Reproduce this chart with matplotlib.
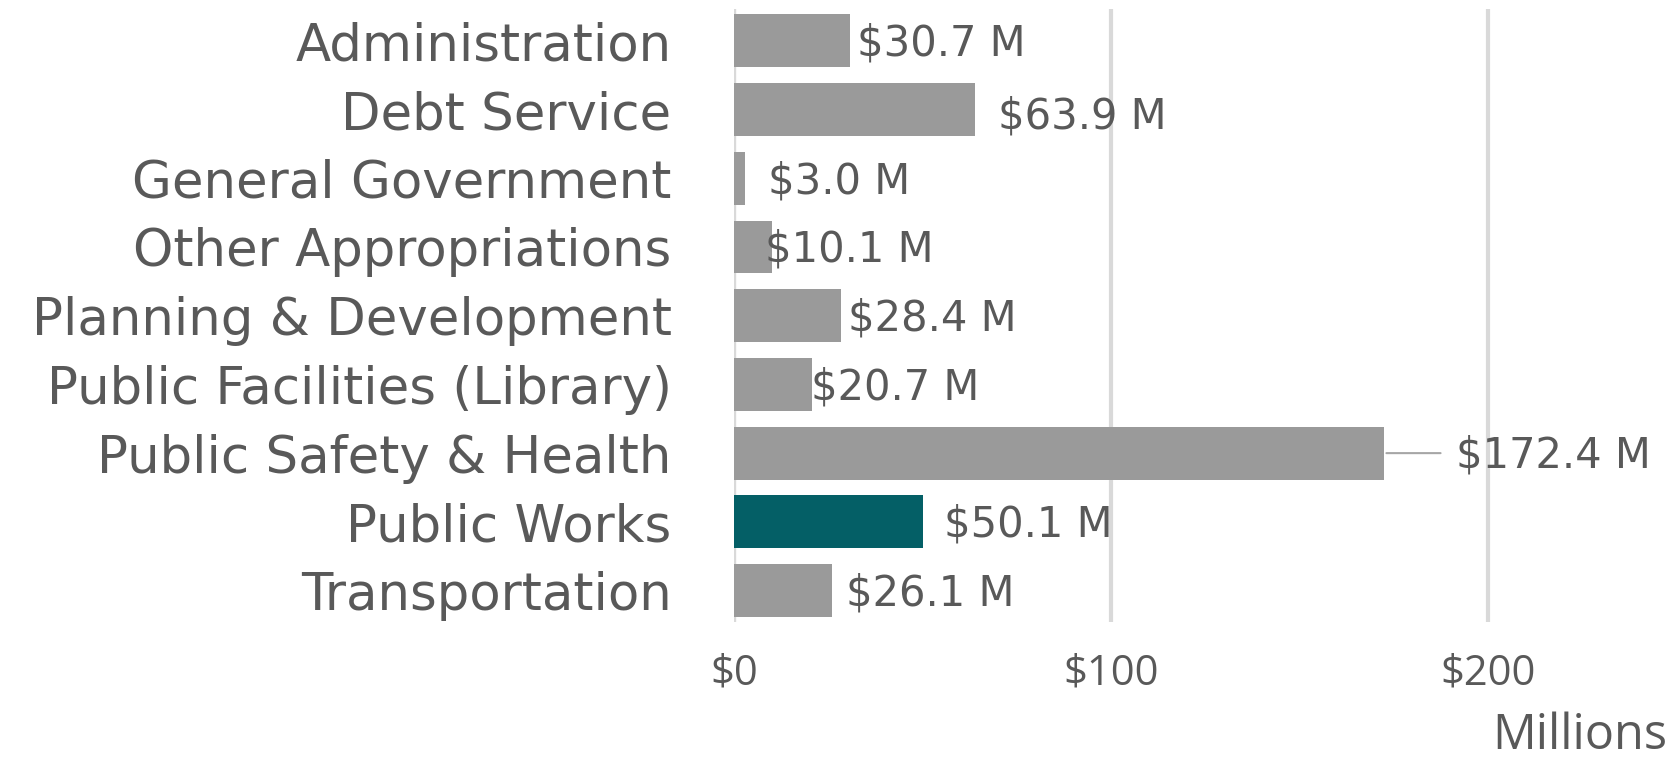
import matplotlib.pyplot as plt

# data
categories = ['Administration', 'Debt Service', 'General Government', 'Other Appropriations',
              'Planning & Development', 'Public Facilities (Library)', 'Public Safety & Health',
              'Public Works', 'Transportation']
values = [30.7, 63.9, 3.0, 10.1, 28.4, 20.7, 172.4, 50.1, 26.1]
highlight = 'Public Works'
x_ticks = [0, 100, 200]
x_tick_labels = ['$0', '$100', '$200']

# label nudges (points) to mimic the manually placed Excel labels
label_dx = [5, 17, 16, -5, 5, -1, 52, 15, 10]
label_dy = [-2, -5, -2, -2, -2, -2, -2, -2, -2]

gray = '#9a9a9a'
teal = '#045f66'
text_col = '#595959'

fig = plt.figure(figsize=(16.76, 7.7), dpi=100)
ax = fig.add_axes([0.438, 0.192, 0.562, 0.796])

ypos = list(range(len(categories)))
colors = [teal if c == highlight else gray for c in categories]
ax.barh(ypos, values, height=0.77, color=colors, zorder=3)

ax.set_xlim(0, 250)
ax.set_ylim(len(categories) - 0.54, -0.46)

ax.set_xticks(x_ticks)
ax.set_xticklabels(x_tick_labels, fontsize=30, color=text_col, family='Open Sans')
ax.set_yticks(ypos)
ax.set_yticklabels(categories, fontsize=37, color=text_col, family='DejaVu Sans')
ax.tick_params(axis='both', length=0)
ax.tick_params(axis='y', pad=45)
ax.tick_params(axis='x', pad=22)

ax.grid(axis='x', color='#d9d9d9', linewidth=3, zorder=0)
for s in ax.spines.values():
    s.set_visible(False)
ax.axvline(0, color='#d9d9d9', linewidth=3, zorder=1)

for i, (v, dx, dy) in enumerate(zip(values, label_dx, label_dy)):
    ax.annotate(f'${v:.1f} M', xy=(v, i), xytext=(dx, dy), textcoords='offset points',
                ha='left', va='center', fontsize=30, color=text_col, family='DejaVu Sans',
                zorder=4)
    if dx > 40:
        # leader line for the moved label
        ax.annotate('', xy=(v, i), xytext=(dx - 9, 0), textcoords='offset points',
                    arrowprops=dict(arrowstyle='-', color='#a6a6a6', lw=1.5))

fig.text(0.995, 0.012, 'Millions', ha='right', va='bottom', fontsize=35,
         color=text_col, family='Open Sans')

fig.savefig('out.png', dpi=100)
